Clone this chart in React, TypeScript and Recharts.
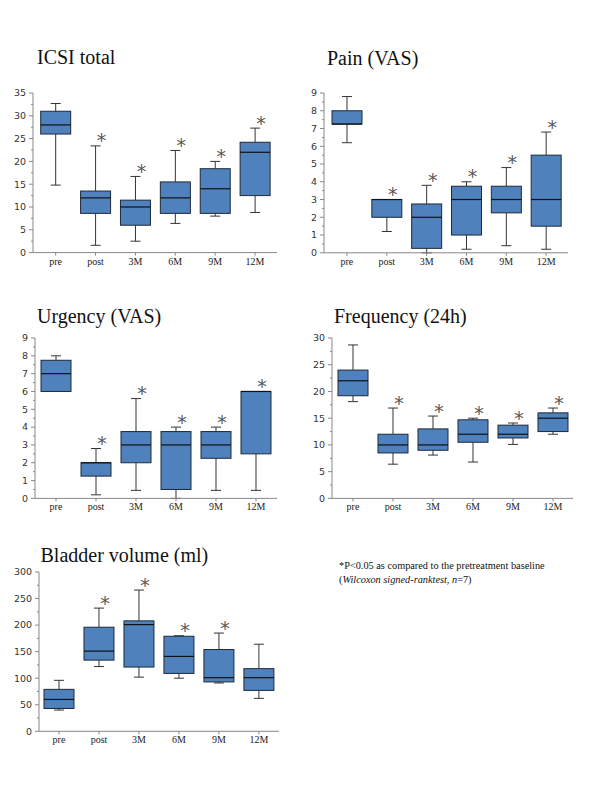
import { Bar, ComposedChart, XAxis, YAxis } from "recharts";

const categories = ["pre", "post", "3M", "6M", "9M", "12M"];

// ICSI total
const icsiMin = [14.8, 1.6, 2.5, 6.4, 8.0, 8.8];
const icsiQ1 = [26, 8.6, 6, 8.6, 8.6, 12.5];
const icsiMed = [28, 12, 10, 12, 14, 22];
const icsiQ3 = [31, 13.5, 11.5, 15.5, 18.4, 24.2];
const icsiMax = [32.7, 23.4, 16.7, 22.4, 20, 27.3];
const icsiTicks = [0, 2.5, 5, 7.5, 10, 12.5, 15, 17.5, 20, 22.5, 25, 27.5, 30, 32.5, 35];

// Pain (VAS)
const painMin = [6.2, 1.2, 0, 0.2, 0.4, 0.2];
const painQ1 = [7.25, 2, 0.25, 1, 2.25, 1.5];
const painMed = [7.25, 3, 2, 3, 3, 3];
const painQ3 = [8, 3, 2.75, 3.75, 3.75, 5.5];
const painMax = [8.8, 3, 3.8, 4, 4.8, 6.8];

// Urgency (VAS)
const urgMin = [6, 0.2, 0.45, 0, 0.45, 0.45];
const urgQ1 = [6, 1.25, 2, 0.5, 2.25, 2.5];
const urgMed = [7, 2, 3, 3, 3, 6];
const urgQ3 = [7.75, 2, 3.75, 3.75, 3.75, 6];
const urgMax = [8, 2.8, 5.6, 4, 4, 6];

const vasTicks = [0, 0.5, 1, 1.5, 2, 2.5, 3, 3.5, 4, 4.5, 5, 5.5, 6, 6.5, 7, 7.5, 8, 8.5, 9];

// Frequency (24h)
const freqMin = [18.1, 6.4, 8.1, 6.8, 10.1, 12];
const freqQ1 = [19.2, 8.5, 9, 10.5, 11.3, 12.5];
const freqMed = [22, 10, 10, 12, 12, 15];
const freqQ3 = [24, 12, 13, 14.7, 13.7, 16];
const freqMax = [28.7, 16.9, 15.4, 15, 14.1, 16.9];
const freqTicks = [0, 2.5, 5, 7.5, 10, 12.5, 15, 17.5, 20, 22.5, 25, 27.5, 30];

// Bladder volume (ml)
const bladMin = [40, 122, 102, 100, 91, 62];
const bladQ1 = [43, 134, 121, 109, 93, 77];
const bladMed = [60, 151, 201, 141, 101, 101];
const bladQ3 = [79, 196, 208, 179, 154, 118];
const bladMax = [96, 232, 266, 180, 185, 164];
const bladTicks = [0, 25, 50, 75, 100, 125, 150, 175, 200, 225, 250, 275, 300];

const sigAll = [false, true, true, true, true, true];
const sigBladder = [false, true, true, true, true, false];

const Y_W = 30;
const TOP_M = 10;
const X_H = 25;

function rows(min: number[], q1: number[], med: number[], q3: number[], max: number[], sig: boolean[]) {
  return categories.map((name, i) => ({
    name,
    min: min[i],
    q1: q1[i],
    med: med[i],
    q3: q3[i],
    max: max[i],
    sig: sig[i],
  }));
}

function BoxShape(props: any) {
  const { x, y, width, height, payload } = props;
  const top = Math.min(y, y + height);
  const h = Math.abs(height);
  const { min, q1, med, q3, max, sig } = payload;
  const py = (v: number) => top + ((q3 - v) * h) / (q3 - q1);
  const cx = x + width / 2;
  const yMax = py(max);
  const yMin = py(min);
  const yMed = py(med);
  return (
    <g>
      {max > q3 && (
        <g stroke="#333" strokeWidth={1}>
          <line x1={cx} x2={cx} y1={yMax} y2={top} />
          <line x1={cx - 5} x2={cx + 5} y1={yMax} y2={yMax} />
        </g>
      )}
      {min < q1 && (
        <g stroke="#333" strokeWidth={1}>
          <line x1={cx} x2={cx} y1={top + h} y2={yMin} />
          <line x1={cx - 5} x2={cx + 5} y1={yMin} y2={yMin} />
        </g>
      )}
      <rect x={x} y={top} width={width} height={h} fill="#4F81BD" stroke="#1e2a38" strokeWidth={1} />
      <line x1={x} x2={x + width} y1={yMed} y2={yMed} stroke="#111" strokeWidth={1.2} />
      {sig && (
        <text x={cx + 6} y={yMax + 1.5} textAnchor="middle" fontFamily="DejaVu Sans" fontSize={19} fill="#555">
          *
        </text>
      )}
    </g>
  );
}

function makeYTick(major: number) {
  return (props: any) => {
    const { y, payload } = props;
    const r = payload.value / major;
    const isMajor = Math.abs(r - Math.round(r)) < 1e-6;
    return (
      <g>
        <line x1={Y_W - (isMajor ? 4 : 2)} x2={Y_W} y1={y} y2={y} stroke="#888" />
        {isMajor && (
          <text x={Y_W - 7} y={y} dy="0.35em" textAnchor="end" fontFamily="DejaVu Sans" fontSize={9.5} fill="#333">
            {payload.value}
          </text>
        )}
      </g>
    );
  };
}

type PanelProps = {
  data: ReturnType<typeof rows>;
  ticks: number[];
  major: number;
  axisX: number;
  bandStart: number;
  bandEnd: number;
  axisEnd: number;
  yTop: number;
  yBot: number;
};

function BoxPanel({ data, ticks, major, axisX, bandStart, bandEnd, axisEnd, yTop, yBot }: PanelProps) {
  const width = Y_W + (axisEnd - axisX);
  const height = TOP_M + (yBot - yTop) + X_H;
  return (
    <div style={{ position: "absolute", left: axisX - Y_W, top: yTop - TOP_M }}>
      <ComposedChart width={width} height={height} data={data} margin={{ top: TOP_M, right: 0, bottom: 0, left: 0 }}>
        <XAxis
          dataKey="name"
          axisLine={{ stroke: "#888" }}
          tickLine={{ stroke: "#888" }}
          tickSize={3}
          tickMargin={2}
          height={X_H}
          padding={{ left: bandStart - axisX, right: axisEnd - bandEnd }}
          tick={{ fontFamily: "Liberation Serif", fontSize: 10, fill: "#222" }}
          interval={0}
        />
        <YAxis
          width={Y_W}
          domain={[0, ticks[ticks.length - 1]]}
          ticks={ticks}
          interval={0}
          axisLine={{ stroke: "#888" }}
          tickLine={false}
          tick={makeYTick(major)}
        />
        <Bar dataKey={(d: any) => [d.q1, d.q3]} barSize={30} shape={BoxShape} isAnimationActive={false} />
      </ComposedChart>
    </div>
  );
}

const titleStyle = { fontFamily: "Liberation Serif", fontSize: 20, fill: "#111" };

export default function App() {
  return (
    <div style={{ position: "absolute", left: 0, top: 0, width: 600, height: 800, background: "#fff" }}>
      <BoxPanel
        data={rows(icsiMin, icsiQ1, icsiMed, icsiQ3, icsiMax, sigAll)}
        ticks={icsiTicks}
        major={5}
        axisX={33}
        bandStart={35.7}
        bandEnd={275}
        axisEnd={277}
        yTop={92.7}
        yBot={252.3}
      />
      <BoxPanel
        data={rows(painMin, painQ1, painMed, painQ3, painMax, sigAll)}
        ticks={vasTicks}
        major={1}
        axisX={324}
        bandStart={327}
        bandEnd={566}
        axisEnd={568}
        yTop={92.7}
        yBot={252.5}
      />
      <BoxPanel
        data={rows(urgMin, urgQ1, urgMed, urgQ3, urgMax, sigAll)}
        ticks={vasTicks}
        major={1}
        axisX={35}
        bandStart={36}
        bandEnd={276}
        axisEnd={277}
        yTop={338.3}
        yBot={498.7}
      />
      <BoxPanel
        data={rows(freqMin, freqQ1, freqMed, freqQ3, freqMax, sigAll)}
        ticks={freqTicks}
        major={5}
        axisX={331.7}
        bandStart={332.7}
        bandEnd={572.7}
        axisEnd={573.3}
        yTop={338.3}
        yBot={498.7}
      />
      <BoxPanel
        data={rows(bladMin, bladQ1, bladMed, bladQ3, bladMax, sigBladder)}
        ticks={bladTicks}
        major={50}
        axisX={39.3}
        bandStart={39.3}
        bandEnd={279.2}
        axisEnd={279.5}
        yTop={571.7}
        yBot={731}
      />
      <svg width={600} height={800} style={{ position: "absolute", left: 0, top: 0, pointerEvents: "none" }}>
        <text x={37} y={64} {...titleStyle}>ICSI total</text>
        <text x={327} y={64.5} {...titleStyle}>Pain (VAS)</text>
        <text x={37} y={323} {...titleStyle}>Urgency (VAS)</text>
        <text x={334} y={323} {...titleStyle}>Frequency (24h)</text>
        <text x={40.5} y={561.5} {...titleStyle}>Bladder volume (ml)</text>
        <text x={339} y={569} fontFamily="Liberation Serif" fontSize={10.3} fill="#111">
          *P&lt;0.05 as compared to the pretreatment baseline
        </text>
        <text x={339} y={583} fontFamily="Liberation Serif" fontSize={10.3} fill="#111">
          (<tspan fontStyle="italic">Wilcoxon signed-ranktest</tspan>, <tspan fontStyle="italic">n</tspan>=7)
        </text>
      </svg>
    </div>
  );
}
